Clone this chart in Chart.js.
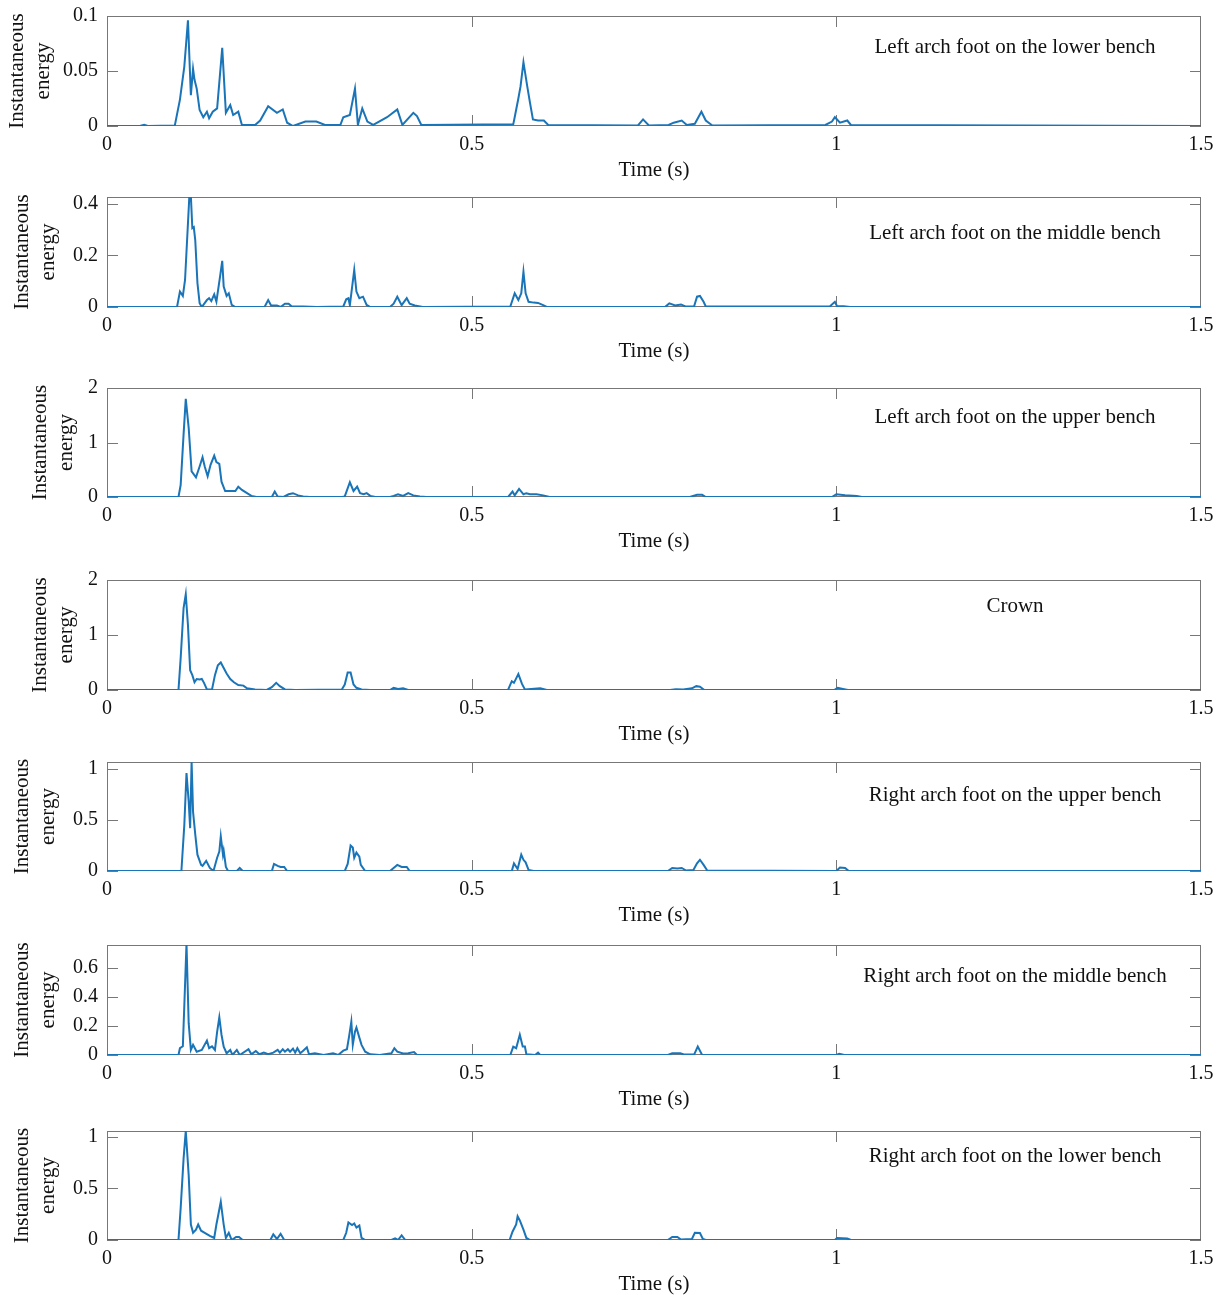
<!DOCTYPE html>
<html>
<head>
<meta charset="utf-8">
<script src="https://cdn.jsdelivr.net/npm/chart.js@4.4.1/dist/chart.umd.min.js"></script>
<style>
body{margin:0;background:#fff;}
#wrap{position:relative;width:1223px;height:1295px;}
#wrap canvas{position:absolute;left:0;}
</style>
</head>
<body>
<div id="wrap"></div>
<script>
// x axis
const xTicks=[0,0.5,1,1.5];

// Left arch foot on the lower bench
const t1=[0,0.045,0.051,0.056,0.093,0.100,0.106,0.111,0.115,0.118,0.120,0.123,0.127,0.132,0.137,0.140,0.145,0.151,0.158,0.163,0.169,0.173,0.180,0.185,0.203,0.210,0.221,0.233,0.241,0.247,0.255,0.272,0.287,0.299,0.320,0.324,0.333,0.340,0.344,0.350,0.357,0.365,0.384,0.398,0.405,0.420,0.425,0.431,0.557,0.559,0.564,0.567,0.571,0.576,0.580,0.584,0.591,0.599,0.605,0.728,0.735,0.743,0.770,0.777,0.788,0.795,0.806,0.815,0.821,0.830,0.985,0.994,0.998,1.005,1.015,1.020,1.5];
const e1=[0,0,0.001,0,0.0005,0.024,0.054,0.096,0.028,0.052,0.042,0.034,0.0145,0.008,0.013,0.007,0.013,0.016,0.071,0.012,0.019,0.010,0.013,0.001,0.001,0.005,0.018,0.012,0.015,0.003,0,0.004,0.004,0.001,0.001,0.008,0.010,0.034,0.001,0.016,0.004,0.001,0.008,0.015,0.001,0.012,0.009,0.001,0.0015,0.008,0.025,0.036,0.058,0.037,0.021,0.006,0.005,0.005,0.001,0.0005,0.006,0.0005,0.001,0.003,0.005,0.001,0.002,0.013,0.005,0.0005,0.001,0.004,0.008,0.003,0.005,0.001,0];

// Left arch foot on the middle bench
const t2=[0,0.096,0.100,0.104,0.107,0.113,0.115,0.117,0.119,0.121,0.124,0.127,0.130,0.137,0.140,0.143,0.147,0.150,0.155,0.158,0.160,0.164,0.167,0.171,0.176,0.216,0.221,0.225,0.233,0.238,0.244,0.249,0.253,0.269,0.288,0.324,0.328,0.331,0.333,0.339,0.342,0.346,0.351,0.356,0.361,0.388,0.393,0.398,0.404,0.411,0.415,0.422,0.433,0.553,0.559,0.564,0.568,0.571,0.574,0.578,0.585,0.591,0.598,0.603,0.765,0.771,0.779,0.787,0.793,0.805,0.809,0.813,0.818,0.821,0.991,0.998,1.001,1.010,1.019,1.5];
const e2=[0,0,0.06,0.043,0.105,0.435,0.43,0.306,0.31,0.26,0.093,0.015,0,0.027,0.034,0.023,0.049,0.021,0.118,0.179,0.079,0.043,0.053,0.008,0,0,0.027,0.006,0.006,0,0.013,0.013,0.003,0.002,0,0.002,0.03,0.034,0.007,0.144,0.06,0.034,0.04,0.008,0,0,0.013,0.04,0.007,0.034,0.013,0.006,0,0.002,0.053,0.027,0.053,0.137,0.053,0.02,0.017,0.016,0.007,0,0,0.014,0.006,0.01,0.002,0.003,0.04,0.043,0.02,0.002,0.002,0.02,0.003,0.003,0,0];

// Left arch foot on the upper bench
const t3=[0,0.098,0.101,0.105,0.108,0.112,0.116,0.122,0.127,0.131,0.134,0.138,0.142,0.147,0.150,0.154,0.157,0.162,0.171,0.176,0.180,0.185,0.192,0.198,0.205,0.226,0.230,0.234,0.242,0.249,0.255,0.262,0.269,0.278,0.322,0.326,0.333,0.338,0.343,0.347,0.352,0.356,0.361,0.368,0.388,0.393,0.399,0.406,0.413,0.420,0.429,0.438,0.550,0.556,0.559,0.565,0.571,0.575,0.580,0.589,0.598,0.607,0.799,0.809,0.816,0.821,0.994,1.000,1.012,1.028,1.035,1.5];
const e3=[0,0,0.22,1.15,1.8,1.27,0.47,0.36,0.56,0.73,0.56,0.38,0.59,0.76,0.64,0.61,0.28,0.11,0.11,0.11,0.19,0.13,0.07,0.02,0,0,0.1,0.01,0,0.05,0.07,0.03,0.01,0,0,0.01,0.27,0.11,0.19,0.07,0.05,0.07,0.02,0,0,0.02,0.05,0.02,0.07,0.03,0.01,0,0,0.1,0.03,0.15,0.05,0.07,0.05,0.05,0.03,0,0,0.04,0.04,0,0,0.05,0.03,0.02,0,0];

// Crown
const t4=[0,0.098,0.101,0.105,0.108,0.111,0.114,0.117,0.120,0.123,0.127,0.130,0.133,0.137,0.144,0.148,0.152,0.156,0.160,0.164,0.169,0.174,0.180,0.187,0.192,0.203,0.219,0.226,0.232,0.237,0.244,0.258,0.322,0.326,0.330,0.334,0.338,0.342,0.349,0.361,0.388,0.393,0.399,0.406,0.413,0.550,0.555,0.558,0.564,0.569,0.573,0.594,0.603,0.772,0.780,0.790,0.802,0.808,0.813,0.819,0.997,1.002,1.009,1.016,1.5];
const e4=[0,0,0.58,1.49,1.74,1.18,0.36,0.27,0.14,0.2,0.19,0.2,0.13,0.01,0.01,0.27,0.45,0.5,0.4,0.3,0.2,0.14,0.09,0.08,0.03,0.01,0,0.05,0.13,0.07,0.01,0,0.01,0.1,0.32,0.32,0.1,0.04,0.01,0,0,0.04,0.02,0.03,0,0.005,0.16,0.13,0.29,0.11,0.01,0.03,0,0,0.015,0.01,0.03,0.07,0.06,0,0,0.04,0.02,0,0];

// Right arch foot on the upper bench
const t5=[0,0.102,0.106,0.109,0.112,0.114,0.116,0.118,0.121,0.124,0.129,0.131,0.136,0.141,0.146,0.151,0.154,0.156,0.159,0.160,0.163,0.166,0.178,0.182,0.186,0.226,0.229,0.234,0.238,0.243,0.247,0.326,0.330,0.334,0.337,0.339,0.342,0.346,0.348,0.354,0.388,0.393,0.398,0.404,0.411,0.415,0.555,0.558,0.563,0.568,0.571,0.574,0.578,0.585,0.769,0.775,0.782,0.788,0.794,0.804,0.809,0.813,0.818,0.823,1.000,1.005,1.012,1.017,1.5];
const e5=[0,0,0.45,0.96,0.68,0.42,1.07,0.58,0.36,0.16,0.06,0.05,0.1,0.03,0,0.13,0.19,0.34,0.16,0.2,0.04,0,0,0.03,0,0,0.07,0.05,0.04,0.04,0,0,0.07,0.25,0.23,0.13,0.18,0.14,0.06,0,0,0.03,0.06,0.04,0.04,0,0,0.075,0.02,0.16,0.11,0.085,0.01,0,0,0.03,0.025,0.03,0.005,0.01,0.075,0.11,0.06,0.005,0,0.035,0.03,0,0];

// Right arch foot on the middle bench
const t6=[0,0.098,0.100,0.104,0.106,0.109,0.112,0.115,0.118,0.123,0.130,0.137,0.140,0.144,0.148,0.151,0.154,0.157,0.160,0.164,0.169,0.172,0.178,0.182,0.194,0.198,0.204,0.209,0.215,0.221,0.228,0.234,0.237,0.241,0.244,0.248,0.251,0.255,0.258,0.261,0.265,0.269,0.274,0.277,0.285,0.297,0.310,0.317,0.324,0.329,0.332,0.335,0.337,0.340,0.342,0.346,0.349,0.354,0.361,0.374,0.390,0.394,0.398,0.406,0.413,0.421,0.425,0.553,0.557,0.561,0.566,0.570,0.573,0.575,0.587,0.591,0.594,0.769,0.775,0.786,0.791,0.805,0.810,0.816,1.000,1.004,1.011,1.5];
const e6=[0,0,0.047,0.06,0.34,0.77,0.22,0.035,0.07,0.023,0.035,0.1,0.047,0.06,0.035,0.16,0.26,0.14,0.058,0.012,0.035,0,0.035,0,0.04,0.005,0.028,0.005,0.016,0.005,0.016,0.035,0.016,0.04,0.023,0.04,0.023,0.044,0.016,0.047,0.012,0.03,0.053,0.005,0.012,0,0.012,0,0.03,0.04,0.13,0.23,0.07,0.16,0.19,0.12,0.07,0.023,0.005,0,0.012,0.047,0.023,0.01,0.012,0.02,0,0,0.058,0.047,0.14,0.058,0.058,0.005,0,0.016,0,0,0.012,0.012,0.003,0.003,0.058,0,0,0.008,0,0];

// Right arch foot on the lower bench
const t7=[0,0.098,0.101,0.105,0.108,0.112,0.115,0.118,0.122,0.125,0.129,0.134,0.141,0.147,0.150,0.153,0.156,0.160,0.163,0.167,0.171,0.177,0.181,0.186,0.224,0.228,0.233,0.238,0.243,0.324,0.328,0.331,0.336,0.339,0.342,0.346,0.349,0.354,0.390,0.395,0.399,0.404,0.409,0.552,0.556,0.561,0.563,0.566,0.571,0.575,0.580,0.769,0.775,0.782,0.787,0.802,0.806,0.813,0.817,0.821,0.998,1.001,1.015,1.020,1.5];
const e7=[0,0,0.31,0.79,1.06,0.63,0.15,0.07,0.1,0.15,0.09,0.07,0.04,0.02,0.15,0.26,0.37,0.15,0.02,0.07,0,0.03,0.03,0,0,0.055,0.01,0.06,0,0,0.07,0.17,0.145,0.16,0.12,0.14,0.02,0,0,0.015,0,0.045,0,0,0.08,0.15,0.23,0.19,0.1,0.02,0,0,0.03,0.03,0.005,0.01,0.07,0.068,0.01,0,0,0.02,0.015,0,0];

const panelNames=["Left arch foot on the lower bench","Left arch foot on the middle bench","Left arch foot on the upper bench","Crown","Right arch foot on the upper bench","Right arch foot on the middle bench","Right arch foot on the lower bench"];
const yTickSets=[[0,0.05,0.1],[0,0.2,0.4],[0,1,2],[0,1,2],[0,0.5,1],[0,0.2,0.4,0.6],[0,0.5,1]];
const yMaxes=[0.1,0.427,2,2,1.069,0.76,1.058];

const times=[t1,t2,t3,t4,t5,t6,t7];
const energies=[e1,e2,e3,e4,e5,e6,e7];

// layout (pixels)
const plotTop=[16,197,388,580,762,945,1131];
const plotH=[110,110,109,110,109,110,109];
const yTitlePad=[4,9,27,27,9,9,9];
const nameOffset=[31,36,29,26,33,31,25];
const PAD_TOP=24, X_AXIS_H=58;

const FONT="'Liberation Serif','Times New Roman',serif";
const TXT="#111";
const AXIS="#777";
const LINE="#1a74b8";

const framePlugin={
id:"frame",
beforeDatasetsDraw(chart){
const {ctx,chartArea:a,scales}=chart;
ctx.save();
ctx.strokeStyle=AXIS;
ctx.lineWidth=1;
ctx.strokeRect(Math.round(a.left)+0.5,Math.round(a.top)+0.5,Math.round(a.width)-1,Math.round(a.height)-1);
ctx.beginPath();
scales.x.ticks.forEach(t=>{
const px=Math.round(scales.x.getPixelForValue(t.value))+0.5;
if(px<a.left+2||px>a.right-2) return; // edge ticks sit on the frame
ctx.moveTo(px,a.bottom);ctx.lineTo(px,a.bottom-11);
ctx.moveTo(px,a.top);ctx.lineTo(px,a.top+11);
});
scales.y.ticks.forEach(t=>{
const py=Math.round(scales.y.getPixelForValue(t.value))+0.5;
ctx.moveTo(a.left,py);ctx.lineTo(a.left+11,py);
ctx.moveTo(a.right,py);ctx.lineTo(a.right-11,py);
});
ctx.stroke();
ctx.restore();
},
afterDraw(chart){
const i=chart.options.plugins.frame.idx;
const {ctx,chartArea:a}=chart;
ctx.save();
ctx.fillStyle=TXT;
ctx.font="21px "+FONT;
ctx.textAlign="center";
ctx.textBaseline="middle";
ctx.fillText(panelNames[i],1015,a.top+nameOffset[i]);
ctx.restore();
}
};

const wrap=document.getElementById("wrap");

for(let i=0;i<7;i++){

const cv=document.createElement("canvas");
const h=PAD_TOP+plotH[i]+X_AXIS_H;
cv.width=1223;
cv.height=h;
cv.style.top=(plotTop[i]-PAD_TOP)+"px";
cv.style.width="1223px";
cv.style.height=h+"px";
wrap.appendChild(cv);

const pts=times[i].map((t,k)=>({x:t,y:energies[i][k]}));
const yT=yTickSets[i];

new Chart(cv,{
type:"line",
data:{datasets:[{data:pts,borderColor:LINE,borderWidth:2,pointRadius:0,tension:0,fill:false}]},
options:{
responsive:false,
animation:false,
devicePixelRatio:1,
layout:{padding:{top:PAD_TOP,right:22,left:0,bottom:0}},
plugins:{legend:{display:false},tooltip:{enabled:false},frame:{idx:i}},
scales:{
x:{
type:"linear",min:0,max:1.5,
afterBuildTicks:s=>{s.ticks=xTicks.map(v=>({value:v}));},
afterFit:s=>{s.height=X_AXIS_H;},
grid:{display:false,drawTicks:false},
border:{display:false},
ticks:{padding:7,color:TXT,font:{family:FONT,size:20},maxRotation:0,autoSkip:false,callback:v=>String(v)},
title:{display:true,text:"Time (s)",color:TXT,font:{family:FONT,size:21},padding:{top:0,bottom:1}}
},
y:{
min:0,max:yMaxes[i],
afterBuildTicks:s=>{s.ticks=yT.map(v=>({value:v}));},
afterFit:s=>{s.width=107;},
grid:{display:false,drawTicks:false},
border:{display:false},
ticks:{padding:9,color:TXT,font:{family:FONT,size:20},autoSkip:false,callback:v=>String(v)},
title:{display:true,text:["Instantaneous","energy"],color:TXT,font:{family:FONT,size:21,lineHeight:26/21},padding:{top:yTitlePad[i],bottom:0}}
}
}
},
plugins:[framePlugin]
});

}
</script>
</body>
</html>
